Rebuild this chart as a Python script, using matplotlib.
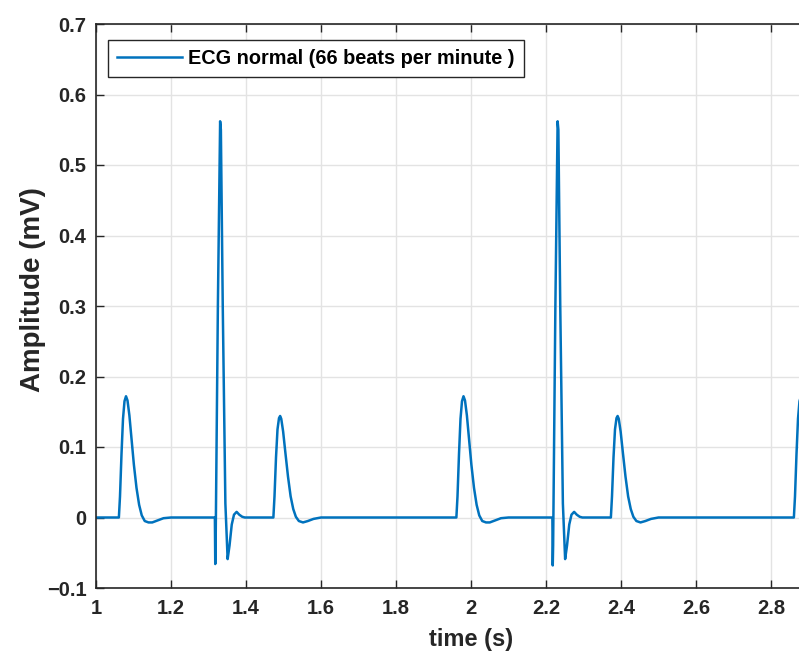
import matplotlib.pyplot as plt

# ECG samples (time in s, amplitude in mV)
time_s = [1.000, 1.061, 1.064, 1.068, 1.072, 1.076, 1.080, 1.084, 1.089, 1.095,
          1.101, 1.108, 1.115, 1.122, 1.130, 1.140, 1.150, 1.165, 1.180, 1.200,
          1.317, 1.318, 1.319, 1.325, 1.331, 1.333, 1.338, 1.345, 1.351, 1.356,
          1.362, 1.368, 1.375, 1.382, 1.390, 1.397,
          1.473, 1.476, 1.480, 1.484, 1.488, 1.491, 1.494, 1.499, 1.505, 1.512,
          1.519, 1.526, 1.533, 1.541, 1.552, 1.565, 1.580, 1.600,
          1.961, 1.964, 1.968, 1.972, 1.976, 1.980, 1.984, 1.989, 1.995,
          2.001, 2.008, 2.015, 2.022, 2.030, 2.040, 2.050, 2.065, 2.080, 2.100,
          2.217, 2.218, 2.219, 2.225, 2.231, 2.233, 2.238, 2.245, 2.251, 2.256,
          2.262, 2.268, 2.275, 2.282, 2.290, 2.297,
          2.373, 2.376, 2.380, 2.384, 2.388, 2.391, 2.394, 2.399, 2.405, 2.412,
          2.419, 2.426, 2.433, 2.441, 2.452, 2.465, 2.480, 2.500,
          2.861, 2.864, 2.868, 2.872, 2.876, 2.880]
ecg_mv = [0, 0, 0.030, 0.090, 0.140, 0.165, 0.172, 0.166, 0.145, 0.110,
          0.075, 0.042, 0.018, 0.003, -0.005, -0.007, -0.007, -0.004, -0.001, 0,
          0, -0.066, -0.040, 0.300, 0.562, 0.550, 0.300, 0.020, -0.059, -0.040,
          -0.010, 0.004, 0.008, 0.004, 0.001, 0,
          0, 0.030, 0.085, 0.125, 0.141, 0.144, 0.140, 0.122, 0.092, 0.058,
          0.030, 0.012, 0.001, -0.005, -0.007, -0.005, -0.002, 0,
          0, 0.030, 0.090, 0.140, 0.165, 0.172, 0.166, 0.145, 0.110,
          0.075, 0.042, 0.018, 0.003, -0.005, -0.007, -0.007, -0.004, -0.001, 0,
          0, -0.068, -0.040, 0.300, 0.562, 0.550, 0.300, 0.020, -0.059, -0.040,
          -0.010, 0.004, 0.008, 0.004, 0.001, 0,
          0, 0.030, 0.085, 0.125, 0.141, 0.144, 0.140, 0.122, 0.092, 0.058,
          0.030, 0.012, 0.001, -0.005, -0.007, -0.005, -0.002, 0,
          0, 0.030, 0.090, 0.140, 0.165, 0.172]

xticks = [1, 1.2, 1.4, 1.6, 1.8, 2, 2.2, 2.4, 2.6, 2.8]
xlabels = ['1', '1.2', '1.4', '1.6', '1.8', '2', '2.2', '2.4', '2.6', '2.8']
yticks = [-0.1, 0, 0.1, 0.2, 0.3, 0.4, 0.5, 0.6, 0.7]
ylabels = ['\u22120.1', '0', '0.1', '0.2', '0.3', '0.4', '0.5', '0.6', '0.7']

plt.rcParams['font.family'] = ['Liberation Sans', 'DejaVu Sans']
plt.rcParams['font.weight'] = 'bold'

fig = plt.figure(figsize=(7.99, 6.55), dpi=100)
# the right part of the axes runs past the figure edge, as in the picture
ax = fig.add_axes([96 / 799, 67 / 655, 750 / 799, 564 / 655])

ax.plot(time_s, ecg_mv, color='#0072BD', lw=1.8,
        label='ECG normal (66 beats per minute )')

ax.set_xlim(1, 3)
ax.set_ylim(-0.1, 0.7)
ax.set_xticks(xticks)
ax.set_xticklabels(xlabels)
ax.set_yticks(yticks)
ax.set_yticklabels(ylabels)

ax.grid(True, color='#e3e3e3', lw=1.0)
ax.set_axisbelow(True)
ax.tick_params(direction='in', length=6, width=1.0, colors='#262626',
               labelsize=14.5, top=True, right=True)
ax.tick_params(axis='x', pad=8)
ax.tick_params(axis='y', pad=7)
for s in ax.spines.values():
    s.set_color('#262626')
    s.set_linewidth(1.2)

ax.set_xlabel('time (s)', fontsize=17, fontweight='bold', color='#262626', labelpad=7)
ax.set_ylabel('Amplitude (mV)', fontsize=20, fontweight='bold', color='#262626')
ax.yaxis.set_label_coords(-0.066, 0.53)

leg = ax.legend(loc='upper left', fontsize=14.3, frameon=True, fancybox=False,
                bbox_to_anchor=(0.016, 0.972), borderaxespad=0,
                handlelength=3.3, handletextpad=0.3, borderpad=0.45)
leg.get_frame().set_edgecolor('#262626')
leg.get_frame().set_linewidth(1.0)
leg.get_frame().set_alpha(1)

plt.savefig('out.png', dpi=100)
